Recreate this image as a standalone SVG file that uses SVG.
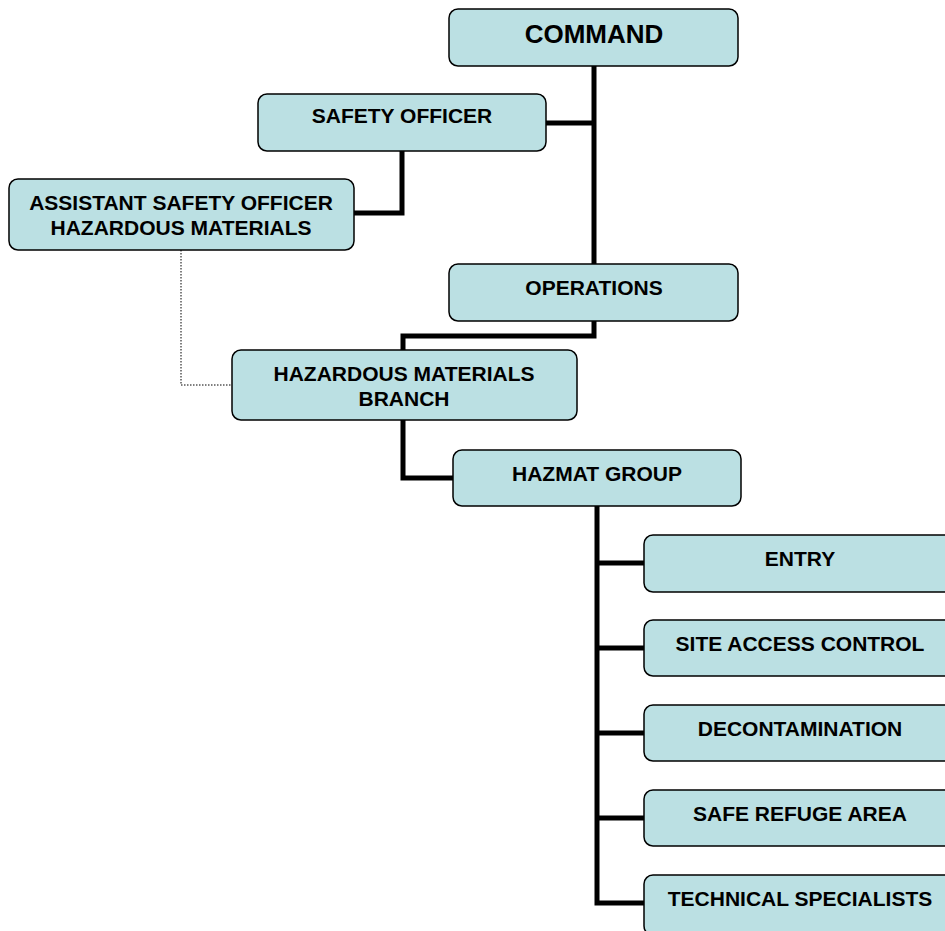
<svg xmlns="http://www.w3.org/2000/svg" width="945" height="931" viewBox="0 0 945 931">
<style>
.box{fill:#BBE0E3;stroke:#000;stroke-width:1.5}
.t{font-family:"Liberation Sans",Arial,sans-serif;font-weight:bold;font-size:21px;text-anchor:middle;fill:#000}
.big{font-size:26px}
.c{fill:none;stroke:#000;stroke-width:5}
.d{fill:none;stroke:#000;stroke-width:1;stroke-dasharray:1.5,1.5}
</style>
<rect width="945" height="931" fill="#fff"/>
<g id="connectors">
<polyline class="c" points="594,66 594,264"/>
<polyline class="c" points="546,123 594,123"/>
<polyline class="c" points="402,151 402,213 354,213"/>
<polyline class="c" points="594,321 594,336 403,336 403,350"/>
<polyline class="c" points="403,420 403,478 453,478"/>
<polyline class="c" points="597,506 597,903 644,903"/>
<polyline class="c" points="597,563 644,563"/>
<polyline class="c" points="597,648 644,648"/>
<polyline class="c" points="597,733 644,733"/>
<polyline class="c" points="597,818 644,818"/>
<polyline class="d" points="181,250 181,385 232,385"/>
</g>
<g id="command"><rect class="box" x="449" y="9" width="289" height="57" rx="9"/><text class="t big" x="594" y="43">COMMAND</text></g>
<g id="safety-officer"><rect class="box" x="258" y="94" width="288" height="57" rx="9"/><text class="t" x="402" y="123">SAFETY OFFICER</text></g>
<g id="assistant-safety-officer"><rect class="box" x="9" y="179" width="345" height="71" rx="9"/><text class="t" x="181" y="210">ASSISTANT SAFETY OFFICER</text><text class="t" x="181" y="235">HAZARDOUS MATERIALS</text></g>
<g id="operations"><rect class="box" x="449" y="264" width="289" height="57" rx="9"/><text class="t" x="594" y="295">OPERATIONS</text></g>
<g id="hazmat-branch"><rect class="box" x="232" y="350" width="345" height="70" rx="9"/><text class="t" x="404" y="381">HAZARDOUS MATERIALS</text><text class="t" x="404" y="406">BRANCH</text></g>
<g id="hazmat-group"><rect class="box" x="453" y="450" width="288" height="56" rx="9"/><text class="t" x="597" y="481">HAZMAT GROUP</text></g>
<g id="entry"><rect class="box" x="644" y="535" width="312" height="57" rx="9"/><text class="t" x="800" y="566">ENTRY</text></g>
<g id="site-access-control"><rect class="box" x="644" y="620" width="312" height="56" rx="9"/><text class="t" x="800" y="651">SITE ACCESS CONTROL</text></g>
<g id="decontamination"><rect class="box" x="644" y="705" width="312" height="56" rx="9"/><text class="t" x="800" y="736">DECONTAMINATION</text></g>
<g id="safe-refuge-area"><rect class="box" x="644" y="790" width="312" height="56" rx="9"/><text class="t" x="800" y="821">SAFE REFUGE AREA</text></g>
<g id="technical-specialists"><rect class="box" x="644" y="875" width="312" height="60" rx="9"/><text class="t" x="800" y="906">TECHNICAL SPECIALISTS</text></g>
</svg>
